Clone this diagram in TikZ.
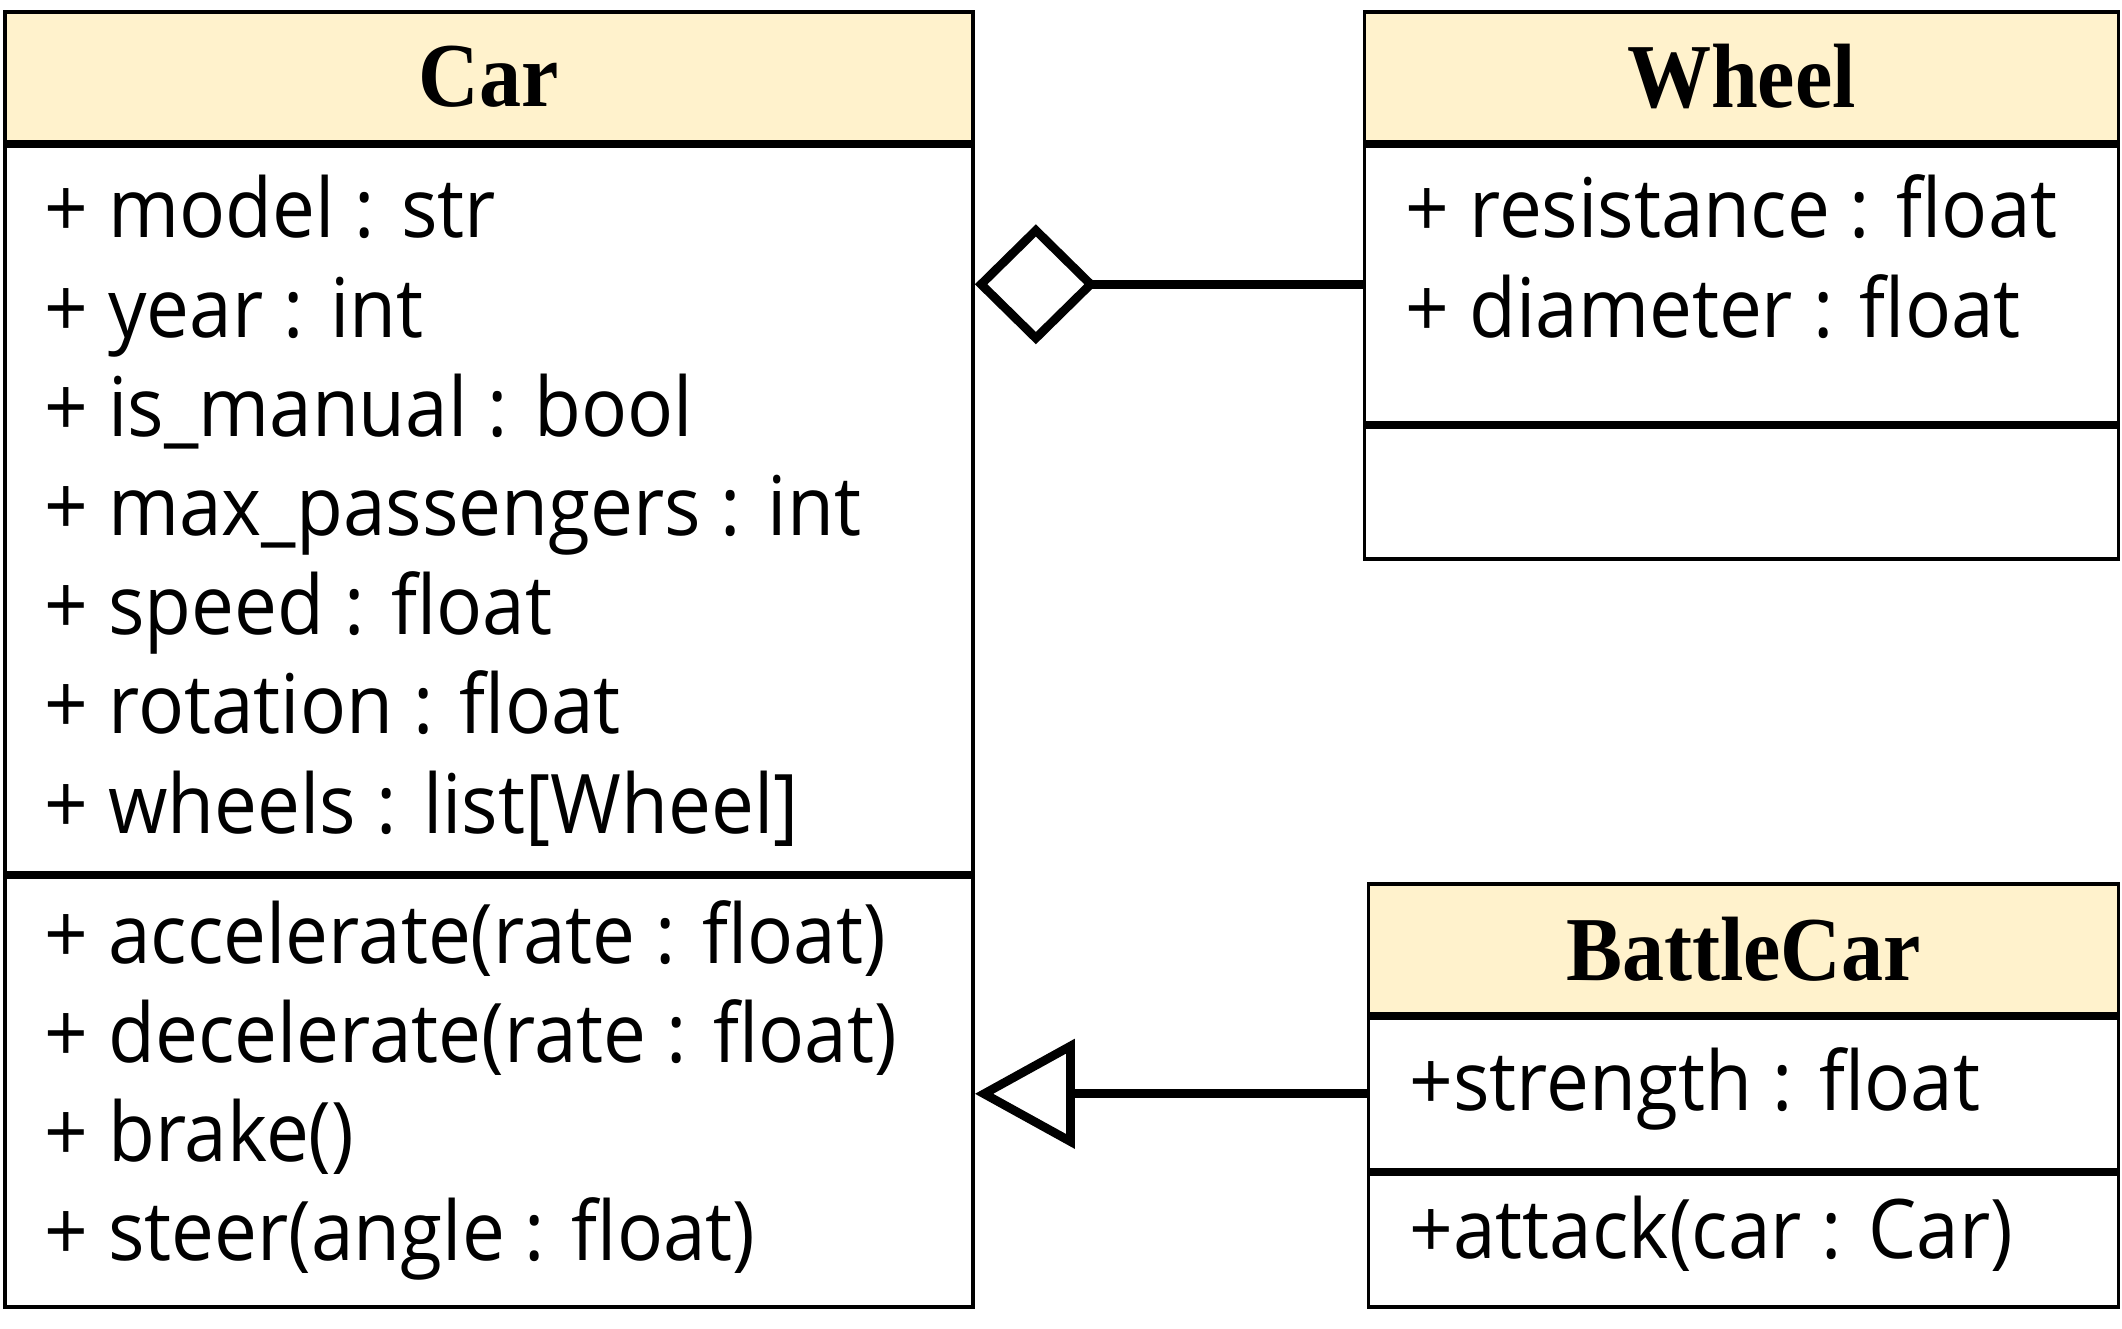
\documentclass[tikz,border=0pt]{standalone}
\usepackage{fontspec}
\usetikzlibrary{arrows.meta}
\newfontfamily\bodyfont{Open Sans}[FakeStretch=0.93]
\newfontfamily\titlefont{Liberation Serif}[FakeStretch=0.92]
\definecolor{umlyellow}{HTML}{FFF2CC}
\tikzstyle{head}=[draw, line width=1.1pt, fill=umlyellow, anchor=north west, inner sep=0pt, minimum height=1.3cm, font=\titlefont\bfseries\fontsize{26}{30}\selectfont]
\tikzstyle{part}=[draw, line width=1.1pt, anchor=north west, inner sep=0pt]
\tikzstyle{member}=[anchor=base west, inner sep=0pt, font=\bodyfont\fontsize{23.4}{28}\selectfont]
\tikzstyle{link}=[line width=2.5pt]

\begin{document}
\begin{tikzpicture}

\useasboundingbox (0, 0) rectangle (21.22, -13.29);

\node [head, minimum width=9.68cm] (car) at (0.03, -0.10) {Car};
\node [part, minimum width=9.68cm, minimum height=7.27cm] (carattr) at (car.south west) {};
\node [part, minimum width=9.68cm, minimum height=4.30cm] (carops) at (carattr.south west) {};

\node [head, minimum width=7.54cm] (wheel) at (13.625, -0.10) {Wheel};
\node [part, minimum width=7.54cm, minimum height=2.77cm] (wheelattr) at (wheel.south west) {};
\node [part, minimum width=7.54cm, minimum height=1.32cm] (wheelops) at (wheelattr.south west) {};

\node [head, minimum width=7.50cm] (battle) at (13.665, -8.82) {BattleCar};
\node [part, minimum width=7.50cm, minimum height=1.52cm] (battleattr) at (battle.south west) {};
\node [part, minimum width=7.50cm, minimum height=1.33cm] (battleops) at (battleattr.south west) {};

\foreach \txt [count=\i from 0] in {+ model : str, + year : int, + is\_manual : bool, + max\_passengers : int, + speed : float, + rotation : float, + wheels : list[Wheel]}
  \node [member] (cara\i) at (0.44, -2.38-0.992*\i) {\txt};
\foreach \txt [count=\i from 0] in {+ accelerate(rate : float), + decelerate(rate : float), + brake(), + steer(angle : float)}
  \node [member] (caro\i) at (0.44, -9.63-0.99*\i) {\txt};
\foreach \txt [count=\i from 0] in {+ resistance : float, + diameter : float}
  \node [member] (wheela\i) at (14.05, -2.38-0.992*\i) {\txt};
\node [member] (battlea0) at (14.09, -11.1) {+strength : float};
\node [member] (battleo0) at (14.09, -12.58) {+attack(car : Car)};

\draw [link, -{Diamond[open, length=1.22cm, width=1.2cm]}] (wheelattr.west) -- (wheelattr.west -| carattr.east);
\draw [link, -{Triangle[open, length=1.0cm, width=1.08cm]}] (battleattr.west) -- (battleattr.west -| carops.east);

\end{tikzpicture}
\end{document}
